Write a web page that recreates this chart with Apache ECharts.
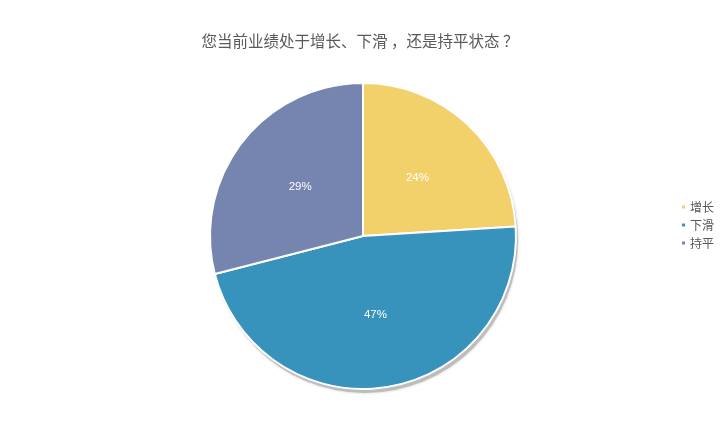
<!DOCTYPE html>
<html>
<head>
<meta charset="utf-8">
<script src="https://cdn.jsdelivr.net/npm/echarts@6/dist/echarts.min.js"></script>
<style>
    html, body { margin: 0; padding: 0; background: #ffffff; }
    #chart { width: 720px; height: 426px; }
</style>
</head>
<body>
<div id="chart"></div>
<script>
var categories = ['增长', '下滑', '持平'];
var values = [24, 47, 29];
var colors = ['#F2D16B', '#3893BC', '#7585AF'];

var pieData = [];
for ( var i = 0; i < categories.length; i++ ) {
    pieData.push( {
        name: categories[i],
        value: values[i],
        itemStyle: { color: colors[i] }
    } );
}

var chart = echarts.init( document.getElementById( 'chart' ) );
chart.setOption( {
    backgroundColor: '#ffffff',
    animation: false,
    title: {
        text: '您当前业绩处于增长、下滑 ，还是持平状态 ？',
        left: 'center',
        top: 28,
        textStyle: {
            color: '#595959',
            fontSize: 15.5,
            fontWeight: 'normal',
            fontFamily: 'Noto Sans CJK SC'
        }
    },
    legend: {
        data: categories,
        orient: 'vertical',
        left: 675,
        top: 196,
        icon: 'rect',
        itemWidth: 5,
        itemHeight: 5,
        itemGap: 6,
        textStyle: {
            color: '#595959',
            fontSize: 12,
            fontFamily: 'Noto Sans CJK SC',
            padding: [0, 0, 0, -1]
        }
    },
    series: [{
        // drop shadow under the pie
        name: 'shadow',
        type: 'pie',
        silent: true,
        center: [365, 240],
        radius: 153,
        label: { show: false },
        labelLine: { show: false },
        itemStyle: {
            color: '#bdbdbd',
            shadowColor: 'rgba(0,0,0,0.2)',
            shadowBlur: 3
        },
        data: [{ value: 1, name: '' }],
        z: 1
    }, {
        name: '业绩',
        type: 'pie',
        center: [363, 236],
        radius: 153,
        startAngle: 90,
        clockwise: true,
        percentPrecision: 0,
        label: {
            show: true,
            position: 'inside',
            formatter: '{d}%',
            color: '#ffffff',
            fontSize: 11.5,
            fontFamily: 'Liberation Sans'
        },
        labelLine: { show: false },
        itemStyle: {
            borderColor: '#ffffff',
            borderWidth: 2
        },
        emphasis: { disabled: true },
        data: pieData,
        z: 2
    }]
} );
</script>
</body>
</html>
